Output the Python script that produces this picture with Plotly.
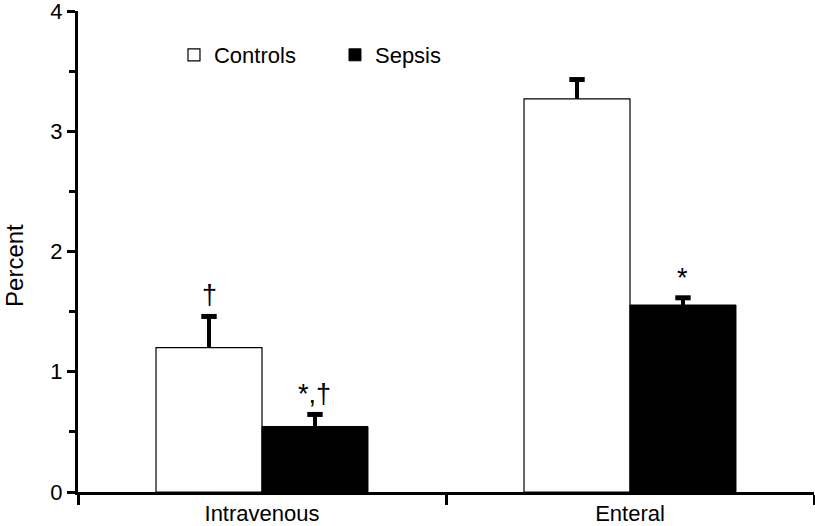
import plotly.graph_objects as go

categories = ["Intravenous", "Enteral"]
controls = [1.20, 3.27]
controls_err = [0.26, 0.16]
sepsis = [0.545, 1.555]
sepsis_err = [0.10, 0.06]
controls_marks = ["†", ""]
sepsis_marks = ["*,†", "*"]

FONT = "Arial, Liberation Sans, sans-serif"
GAP = 0.424

fig = go.Figure()
fig.add_trace(go.Bar(
    x=categories, y=controls, name="Controls", offsetgroup="c",
    marker=dict(color="white", line=dict(color="black", width=1.2)),
))
fig.add_trace(go.Bar(
    x=categories, y=sepsis, name="Sepsis", offsetgroup="s",
    marker=dict(color="black", line=dict(color="black", width=1)),
))
# upward-only error bars: stems + caps
for name, vals, errs in [("c", controls, controls_err), ("s", sepsis, sepsis_err)]:
    tops = [v + e for v, e in zip(vals, errs)]
    fig.add_trace(go.Scatter(
        x=categories, y=tops, mode="markers", offsetgroup=name, showlegend=False,
        hoverinfo="skip",
        marker=dict(symbol="line-ew", size=11, color="black", line=dict(color="black", width=5)),
        error_y=dict(type="data", array=[0] * len(errs), arrayminus=errs, symmetric=False,
                     color="black", thickness=4, width=0),
    ))

half = (1 - GAP) / 4
for i, (v, e, m) in enumerate(zip(controls, controls_err, controls_marks)):
    if m:
        fig.add_annotation(x=i - half, y=v + e, text=m, showarrow=False, xref="x", yref="y",
                           yanchor="bottom", yshift=4, font=dict(family=FONT, size=27, color="black"))
for i, (v, e, m) in enumerate(zip(sepsis, sepsis_err, sepsis_marks)):
    if m:
        fig.add_annotation(x=i + half, y=v + e, text=m, showarrow=False, xref="x", yref="y",
                           yanchor="bottom", yshift=3, font=dict(family=FONT, size=27, color="black"))

fig.add_annotation(x=-0.0856, y=0.472, xref="paper", yref="paper", text="Percent",
                   textangle=-90, showarrow=False, xanchor="center", yanchor="middle",
                   font=dict(family=FONT, size=24, color="black"))

fig.update_layout(
    width=815, height=526,
    margin=dict(l=78, r=1, t=11, b=34),
    plot_bgcolor="white", paper_bgcolor="white",
    barmode="group", bargap=GAP, bargroupgap=0,
    scattermode="group", scattergap=GAP,
    font=dict(family=FONT, color="black"),
    legend=dict(orientation="h", x=0.1304, y=0.9085, xanchor="left", yanchor="middle",
                font=dict(family=FONT, size=22, color="black"), itemwidth=30,
                bgcolor="rgba(0,0,0,0)", entrywidth=116),
    showlegend=True,
)
fig.update_xaxes(
    showline=True, linecolor="black", linewidth=3, tickson="boundaries",
    ticks="outside", ticklen=10, tickwidth=3, tickcolor="black", automargin=False,
    tickfont=dict(family=FONT, size=22, color="black"), showgrid=False,
)
fig.update_yaxes(
    range=[0, 4], dtick=1, showline=True, linecolor="black", linewidth=3,
    ticks="outside", ticklen=8, tickwidth=3, tickcolor="black", automargin=False,
    ticklabeloverflow="allow",
    minor=dict(dtick=0.5, ticks="outside", ticklen=6, tickwidth=3, tickcolor="black", showgrid=False),
    tickfont=dict(family=FONT, size=22, color="black"), showgrid=False, zeroline=False,
)

fig.write_html("out.html", config={"displayModeBar": False},
               post_script="document.body.style.margin='0px';")
